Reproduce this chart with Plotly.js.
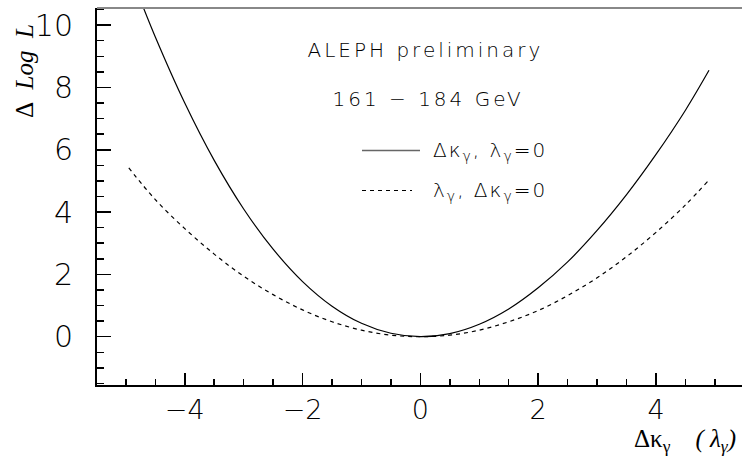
<!DOCTYPE html>
<html>
<head>
<meta charset="utf-8">
<script src="https://cdn.plot.ly/plotly-3.0.1.min.js"></script>
<style>
  html, body { margin: 0; padding: 0; background: #fff; }
  #chart { width: 742px; height: 460px; }
  g.annotation[data-index="0"] text, g.annotation[data-index="1"] text { letter-spacing: 3px; }
  g.annotation[data-index="2"] text, g.annotation[data-index="3"] text { letter-spacing: 2px; }
</style>
</head>
<body>
<div id="chart"></div>
<script>
// Delta kappa_gamma scan (lambda_gamma = 0) - solid
const kappaX = [-4.8, -4.5, -4.0, -3.5, -3.0, -2.5, -2.0, -1.5, -1.0, -0.5, 0.0, 0.5, 1.0, 1.5, 2.0, 2.5, 3.0, 3.5, 4.0, 4.5, 4.9];
const kappaY = [11.03, 9.62, 7.50, 5.66, 4.10, 2.81, 1.77, 0.98, 0.43, 0.11, 0.00, 0.10, 0.40, 0.89, 1.57, 2.40, 3.41, 4.56, 5.85, 7.27, 8.55];
// lambda_gamma scan (Delta kappa_gamma = 0) - dashed
const lambdaX = [-4.95, -4.5, -4.0, -3.5, -3.0, -2.5, -2.0, -1.5, -1.0, -0.5, 0.0, 0.5, 1.0, 1.5, 2.0, 2.5, 3.0, 3.5, 4.0, 4.5, 4.88];
const lambdaY = [5.42, 4.40, 3.47, 2.65, 1.94, 1.35, 0.86, 0.48, 0.21, 0.05, 0.00, 0.05, 0.21, 0.48, 0.84, 1.32, 1.89, 2.57, 3.35, 4.23, 4.99];
// tick values
const xTicks = [-4, -2, 0, 2, 4];
const yTicks = [0, 2, 4, 6, 8, 10];

const thin = { family: 'DejaVu Sans, sans-serif', weight: 200, color: '#000' };
const serif = { family: 'Liberation Serif, serif', weight: 400, color: '#000' };

const W = 742, H = 460, L = 97, R = 0, T = 8, B = 75;
const pw = W - L - R, ph = H - T - B;
const px = v => (v - L) / pw;      // pixel -> paper x
const py = v => (H - B - v) / ph;  // pixel -> paper y

const traces = [
  { x: kappaX, y: kappaY, type: 'scatter', mode: 'lines', line: { color: '#000', width: 1.2, shape: 'spline' }, showlegend: false, name: 'Δκγ, λγ=0' },
  { x: lambdaX, y: lambdaY, type: 'scatter', mode: 'lines', line: { color: '#000', width: 1.2, dash: '4px,4px', shape: 'spline' }, showlegend: false, name: 'λγ, Δκγ=0' }
];

const layout = {
  width: W, height: H,
  margin: { l: L, r: R, t: T, b: B, pad: 0 },
  paper_bgcolor: '#fff', plot_bgcolor: '#fff',
  showlegend: false,
  xaxis: {
    range: [-5.49, 5.46], tickmode: 'array', tickvals: xTicks,
    ticks: 'inside', ticklen: 12, tickwidth: 1.5, tickcolor: '#000',
    minor: { dtick: 0.5, ticks: 'inside', ticklen: 6, tickwidth: 1.5, tickcolor: '#000', showgrid: false },
    showline: true, linecolor: '#000', linewidth: 2, showgrid: false, zeroline: false,
    tickfont: Object.assign({ size: 27 }, thin), ticklabelstandoff: 0
  },
  yaxis: {
    range: [-1.55, 10.55], tickmode: 'array', tickvals: yTicks,
    ticks: 'inside', ticklen: 14, tickwidth: 1.5, tickcolor: '#000',
    minor: { dtick: 0.5, ticks: 'inside', ticklen: 7, tickwidth: 1.5, tickcolor: '#000', showgrid: false },
    showline: true, linecolor: '#000', linewidth: 2, showgrid: false, zeroline: false,
    tickfont: Object.assign({ size: 30 }, thin), ticklabelstandoff: 16
  },
  shapes: [
    { type: 'line', xref: 'paper', yref: 'paper', x0: 0, x1: 1, y0: 1, y1: 1, line: { color: '#888', width: 2 } },
    { type: 'line', xref: 'paper', yref: 'paper', x0: px(362), x1: px(420), y0: py(150.5), y1: py(150.5), line: { color: '#666', width: 1.5 } },
    { type: 'line', xref: 'paper', yref: 'paper', x0: px(362), x1: px(412), y0: py(190.5), y1: py(190.5), line: { color: '#000', width: 1, dash: '4px,4px' } }
  ],
  annotations: [
    { xref: 'paper', yref: 'paper', x: px(425), y: py(50), xanchor: 'center', yanchor: 'middle', showarrow: false,
      text: 'ALEPH preliminary', font: Object.assign({ size: 20 }, thin) },
    { xref: 'paper', yref: 'paper', x: px(428), y: py(99), xanchor: 'center', yanchor: 'middle', showarrow: false,
      text: '161 − 184 GeV', font: Object.assign({ size: 20 }, thin) },
    { xref: 'paper', yref: 'paper', x: px(490), y: py(151), xanchor: 'center', yanchor: 'middle', showarrow: false,
      text: 'Δκ<sub>γ</sub>, λ<sub>γ</sub>=0', font: Object.assign({ size: 20 }, thin) },
    { xref: 'paper', yref: 'paper', x: px(490), y: py(191), xanchor: 'center', yanchor: 'middle', showarrow: false,
      text: 'λ<sub>γ</sub>, Δκ<sub>γ</sub>=0', font: Object.assign({ size: 20 }, thin) },
    { xref: 'paper', yref: 'paper', x: px(24), y: py(71), xanchor: 'center', yanchor: 'middle', showarrow: false, textangle: -90,
      text: 'Δ&nbsp;&nbsp;<i>Log&nbsp;&nbsp;L</i>', font: Object.assign({ size: 25 }, serif) },
    { xref: 'paper', yref: 'paper', x: px(738), y: py(440), xanchor: 'right', yanchor: 'middle', showarrow: false,
      text: 'Δκ<sub>γ</sub>&nbsp;&nbsp;&nbsp;&nbsp;<i>(&nbsp;λ<sub>γ</sub>)</i>', font: Object.assign({ size: 25 }, serif) }
  ]
};

Plotly.newPlot('chart', traces, layout, { displayModeBar: false, staticPlot: true });
</script>
</body>
</html>
